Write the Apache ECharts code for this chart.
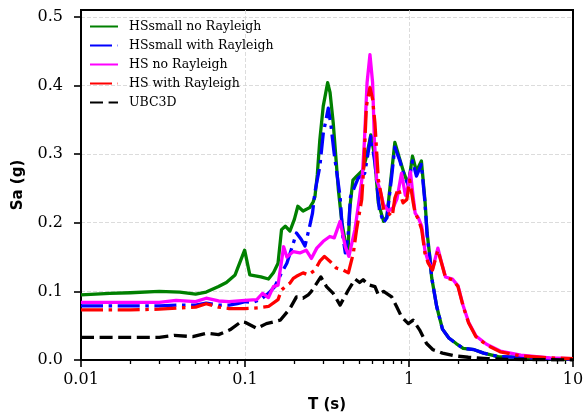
<!DOCTYPE html>
<html>
<head>
<meta charset="utf-8">
<script src="https://cdn.jsdelivr.net/npm/echarts@6/dist/echarts.min.js"></script>
<style>html,body{margin:0;padding:0;background:#fff}#c{width:587px;height:418px}</style>
</head>
<body>
<div id="c"></div>
<script>
// ---- data (T in s, Sa in g) ----
const seriesNames = ['HSsmall no Rayleigh', 'HSsmall with Rayleigh', 'HS no Rayleigh', 'HS with Rayleigh', 'UBC3D'];

const greenT  = [0.01,0.015,0.02,0.03,0.04,0.05,0.058,0.069,0.077,0.087,0.0995,0.107,0.125,0.139,0.149,0.159,0.167,0.176,0.188,0.2,0.21,0.226,0.248,0.26,0.267,0.276,0.286,0.3,0.319,0.33,0.345,0.371,0.39,0.41,0.425,0.435,0.455,0.48,0.524,0.555,0.585,0.615,0.65,0.7,0.733,0.786,0.82,0.88,0.93,0.99,1.05,1.11,1.19,1.25,1.29,1.34,1.375,1.475,1.6,1.75,1.94,2.14,2.5,2.85,3.5,5.7,10];
const greenSa = [0.095,0.097,0.098,0.1,0.099,0.096,0.099,0.107,0.113,0.124,0.16,0.124,0.121,0.118,0.127,0.141,0.19,0.195,0.188,0.205,0.224,0.217,0.222,0.23,0.238,0.27,0.321,0.37,0.404,0.39,0.346,0.248,0.2,0.17,0.16,0.22,0.262,0.268,0.277,0.3,0.328,0.3,0.229,0.202,0.209,0.277,0.317,0.292,0.273,0.255,0.297,0.275,0.29,0.234,0.185,0.15,0.12,0.078,0.045,0.032,0.024,0.017,0.015,0.01,0.005,0.003,0.001];

const blueT  = [0.01,0.02,0.03,0.04,0.05,0.058,0.069,0.08,0.09,0.1,0.112,0.124,0.139,0.152,0.167,0.18,0.197,0.206,0.22,0.232,0.248,0.258,0.267,0.286,0.3,0.322,0.335,0.35,0.38,0.395,0.409,0.425,0.44,0.49,0.537,0.585,0.62,0.66,0.7,0.733,0.786,0.82,0.88,0.93,0.99,1.05,1.11,1.19,1.25,1.29,1.34,1.375,1.475,1.6,1.75,1.94,2.14,2.5,2.85,3.5,5.7,10];
const blueSa = [0.079,0.079,0.079,0.08,0.08,0.083,0.08,0.08,0.082,0.085,0.084,0.088,0.097,0.107,0.127,0.141,0.17,0.185,0.176,0.166,0.195,0.214,0.245,0.282,0.33,0.367,0.34,0.3,0.238,0.18,0.156,0.18,0.238,0.265,0.272,0.326,0.287,0.219,0.2,0.207,0.27,0.31,0.29,0.27,0.255,0.29,0.268,0.285,0.23,0.182,0.148,0.12,0.078,0.045,0.032,0.024,0.017,0.015,0.01,0.005,0.003,0.001];

const magentaT  = [0.01,0.02,0.03,0.038,0.05,0.058,0.069,0.08,0.1,0.118,0.128,0.139,0.149,0.159,0.172,0.18,0.197,0.216,0.236,0.254,0.274,0.3,0.329,0.35,0.38,0.409,0.43,0.468,0.5,0.52,0.535,0.555,0.578,0.6,0.615,0.635,0.665,0.7,0.75,0.8,0.845,0.9,0.95,0.97,1.02,1.06,1.09,1.14,1.195,1.25,1.31,1.39,1.5,1.58,1.67,1.84,1.99,2.14,2.31,2.56,2.97,3.6,4.8,7.2,10];
const magentaSa = [0.084,0.084,0.084,0.087,0.085,0.09,0.086,0.085,0.087,0.088,0.097,0.091,0.107,0.109,0.165,0.15,0.158,0.156,0.16,0.148,0.163,0.173,0.18,0.178,0.202,0.165,0.151,0.19,0.238,0.27,0.32,0.404,0.445,0.404,0.321,0.263,0.248,0.226,0.217,0.222,0.235,0.272,0.24,0.244,0.274,0.238,0.214,0.207,0.195,0.16,0.143,0.132,0.163,0.142,0.121,0.118,0.108,0.079,0.055,0.035,0.023,0.013,0.007,0.003,0.002];

const redT  = [0.01,0.02,0.03,0.04,0.05,0.058,0.069,0.08,0.1,0.12,0.139,0.159,0.167,0.18,0.188,0.197,0.206,0.226,0.243,0.267,0.286,0.305,0.329,0.36,0.397,0.427,0.458,0.479,0.515,0.53,0.55,0.578,0.6,0.62,0.65,0.68,0.7,0.75,0.79,0.82,0.86,0.92,0.97,1.01,1.06,1.09,1.14,1.195,1.25,1.31,1.39,1.5,1.58,1.67,1.84,1.99,2.14,2.31,2.56,2.97,3.6,4.8,7.2,10];
const redSa = [0.073,0.073,0.074,0.076,0.077,0.082,0.077,0.075,0.075,0.076,0.078,0.088,0.102,0.109,0.112,0.119,0.122,0.127,0.124,0.131,0.144,0.151,0.144,0.134,0.131,0.127,0.156,0.19,0.234,0.282,0.37,0.397,0.38,0.345,0.263,0.238,0.219,0.214,0.209,0.236,0.25,0.229,0.234,0.262,0.23,0.214,0.205,0.19,0.156,0.141,0.131,0.16,0.141,0.12,0.117,0.107,0.078,0.054,0.034,0.022,0.012,0.006,0.003,0.002];

const blackT  = [0.01,0.02,0.03,0.037,0.048,0.058,0.069,0.081,0.095,0.1,0.118,0.135,0.164,0.188,0.206,0.226,0.243,0.254,0.29,0.314,0.345,0.38,0.427,0.469,0.5,0.525,0.56,0.62,0.65,0.7,0.784,0.84,0.9,0.99,1.06,1.16,1.28,1.4,1.6,1.9,2.3,3.0,4.0,10];
const blackSa = [0.033,0.033,0.033,0.036,0.034,0.039,0.037,0.044,0.056,0.055,0.046,0.053,0.058,0.075,0.092,0.09,0.095,0.1,0.121,0.107,0.097,0.08,0.102,0.118,0.113,0.117,0.11,0.107,0.095,0.1,0.092,0.078,0.063,0.053,0.058,0.044,0.024,0.015,0.01,0.006,0.004,0.002,0.001,0.0];

const yTicks = [0, 0.1, 0.2, 0.3, 0.4, 0.5];

// ---- build ----
function pairs(t, v) { return t.map((x, i) => [x, v[i]]); }
const styles = [
  { color: '#008000', type: 'solid' },
  { color: '#0000ff', type: [22, 5.6, 3.5, 5.6] },
  { color: '#ff00ff', type: 'solid' },
  { color: '#ff0000', type: [22, 5.6, 3.5, 5.6] },
  { color: '#000000', type: [13, 5.6] }
];
const dataSets = [pairs(greenT, greenSa), pairs(blueT, blueSa), pairs(magentaT, magentaSa), pairs(redT, redSa), pairs(blackT, blackSa)];

const chart = echarts.init(document.getElementById('c'), null, { renderer: 'canvas' });
const serif = 'DejaVu Serif';
chart.setOption({
  animation: false,
  backgroundColor: '#fff',
  grid: { left: 81, right: 14, top: 10, bottom: 58, show: true, borderColor: '#000', borderWidth: 2, backgroundColor: 'transparent' },
  legend: {
    orient: 'vertical', left: 89, top: 20, padding: 0,
    itemWidth: 28, itemHeight: 14, itemGap: 6,
    itemStyle: { opacity: 0 },
    textStyle: { fontFamily: serif, fontSize: 12.5, color: '#000', padding: [0, 0, 0, 6] },
    data: seriesNames
  },
  xAxis: {
    type: 'log', logBase: 10, min: 0.01, max: 10,
    name: 'T (s)', nameLocation: 'middle', nameGap: 38,
    nameTextStyle: { fontFamily: 'DejaVu Sans', fontWeight: 'bold', fontSize: 15, color: '#000' },
    axisLine: { onZero: false, lineStyle: { color: '#000', width: 2 } },
    axisTick: { length: 7, lineStyle: { color: '#000', width: 1.6 } },
    minorTick: { show: true, splitNumber: 9, length: 4, lineStyle: { color: '#000', width: 1.3 } },
    axisLabel: { fontFamily: serif, fontSize: 16, color: '#000', margin: 12,
      formatter: v => String(v) },
    splitLine: { show: true, lineStyle: { color: '#d3d3d3', width: 0.8, type: [4, 2] } }
  },
  yAxis: [{
    type: 'value', min: 0, max: 0.51,
    name: 'Sa (g)', nameLocation: 'middle', nameGap: 55,
    nameTextStyle: { fontFamily: 'DejaVu Sans', fontWeight: 'bold', fontSize: 15, color: '#000' },
    axisLine: { onZero: false, lineStyle: { color: '#000', width: 2 } },
    axisTick: { length: 7, lineStyle: { color: '#000', width: 1.6 }, customValues: yTicks },
    axisLabel: { fontFamily: serif, fontSize: 16, color: '#000', margin: 18, customValues: yTicks,
      formatter: v => Number(v).toFixed(1) },
    splitLine: { show: true, lineStyle: { color: '#d3d3d3', width: 0.8, type: [4, 2] } }
  }, {
    type: 'value', min: 0, max: 0.51, position: 'right',
    axisLine: { show: true, onZero: false, lineStyle: { color: '#000', width: 2 } },
    axisTick: { show: false }, axisLabel: { show: false }, splitLine: { show: false }
  }],
  series: seriesNames.map((n, i) => ({
    name: n, type: 'line', data: dataSets[i], symbol: 'none', smooth: false,
    lineStyle: { color: styles[i].color, width: 3.3, type: styles[i].type, cap: 'butt', join: 'round' },
    itemStyle: { color: styles[i].color },
    z: 2 + i
  }))
});
</script>
</body>
</html>
